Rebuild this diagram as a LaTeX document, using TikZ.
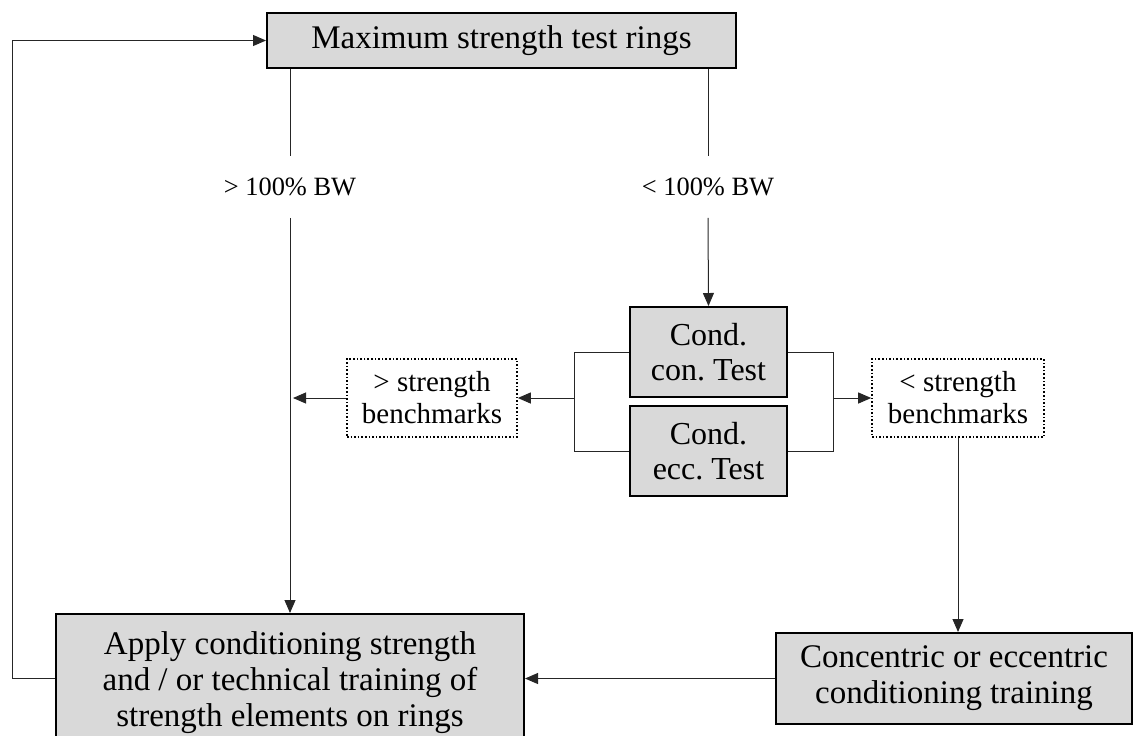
\documentclass[tikz,border=0pt]{standalone}
\usepackage{fontspec}
\setmainfont{Liberation Serif}
\usetikzlibrary{arrows.meta}
\definecolor{boxgray}{RGB}{217,217,217}
\begin{document}
\frenchspacing
\begin{tikzpicture}[x=0.5pt,y=-0.5pt,
 box/.style={draw=black, line width=1pt, fill=boxgray, align=center, inner sep=0pt, font=\fontsize{16.5}{18}\selectfont},
 dbox/.style={draw=black, densely dotted, line width=0.8pt, fill=white, align=center, inner sep=0pt, font=\fontsize{14.5}{16}\selectfont},
 lbl/.style={inner sep=0pt, minimum height=30.5pt, font=\fontsize{13.2}{16}\selectfont},
 conn/.style={line width=0.5pt, draw=black!85},
 arr/.style={conn, -{Triangle[length=6.5pt,width=5.5pt]}}]
\clip (0,0) rectangle (1134,735);
\node[box, minimum width=234.5pt, minimum height=27.5pt] (top) at (501.5,40.5) {Maximum strength test rings};
\node[box, minimum width=78.5pt, minimum height=45pt, font=\fontsize{16}{17.5}\selectfont] (con) at (708.5,352) {Cond.\\con. Test};
\node[box, minimum width=78.5pt, minimum height=45pt, font=\fontsize{16}{17.5}\selectfont] (ecc) at (708.5,451) {Cond.\\ecc. Test};
\node[dbox, minimum width=85pt, minimum height=39pt] (ld) at (432,398) {> strength\\benchmarks};
\node[dbox, minimum width=86pt, minimum height=39pt] (rd) at (958,398) {< strength\\benchmarks};
\node[box, minimum width=234pt, minimum height=69pt] (bl) at (290,683) {Apply conditioning strength\\and / or technical training of\\strength elements on rings};
\node[box, minimum width=178pt, minimum height=45.5pt] (rb) at (954,678.5) {Concentric or eccentric\\conditioning training};
\node[lbl] (gt) at (290,187) {> 100\% BW};
\node[lbl] (lt) at (708,187) {< 100\% BW};
\draw[conn] (top.south -| gt.north) -- (gt.north);
\draw[arr] (gt.south) -- (bl.north);
\draw[conn] (top.south -| lt.north) -- (lt.north);
\draw[arr] (lt.south) -- (con.north);
\coordinate (lb) at (574,398);
\coordinate (rbk) at (833,398);
\draw[conn] (con.west) -| (lb |- ecc.west) -- (ecc.west);
\draw[arr] (lb) -- (ld.east);
\draw[conn] (con.east) -| (rbk |- ecc.east) -- (ecc.east);
\draw[arr] (rbk) -- (rd.west);
\coordinate (vl) at (293,398);
\draw[arr] (ld.west) -- (vl);
\draw[arr] (rd.south) -- (rd.south |- rb.north);
\draw[arr] (rb.west) -- (rb.west -| bl.east);
\coordinate (fb) at (12,0);
\draw[arr] (rb.west -| bl.west) -- (fb |- rb.west) -- (fb |- top.west) -- (top.west);
\end{tikzpicture}
\end{document}
